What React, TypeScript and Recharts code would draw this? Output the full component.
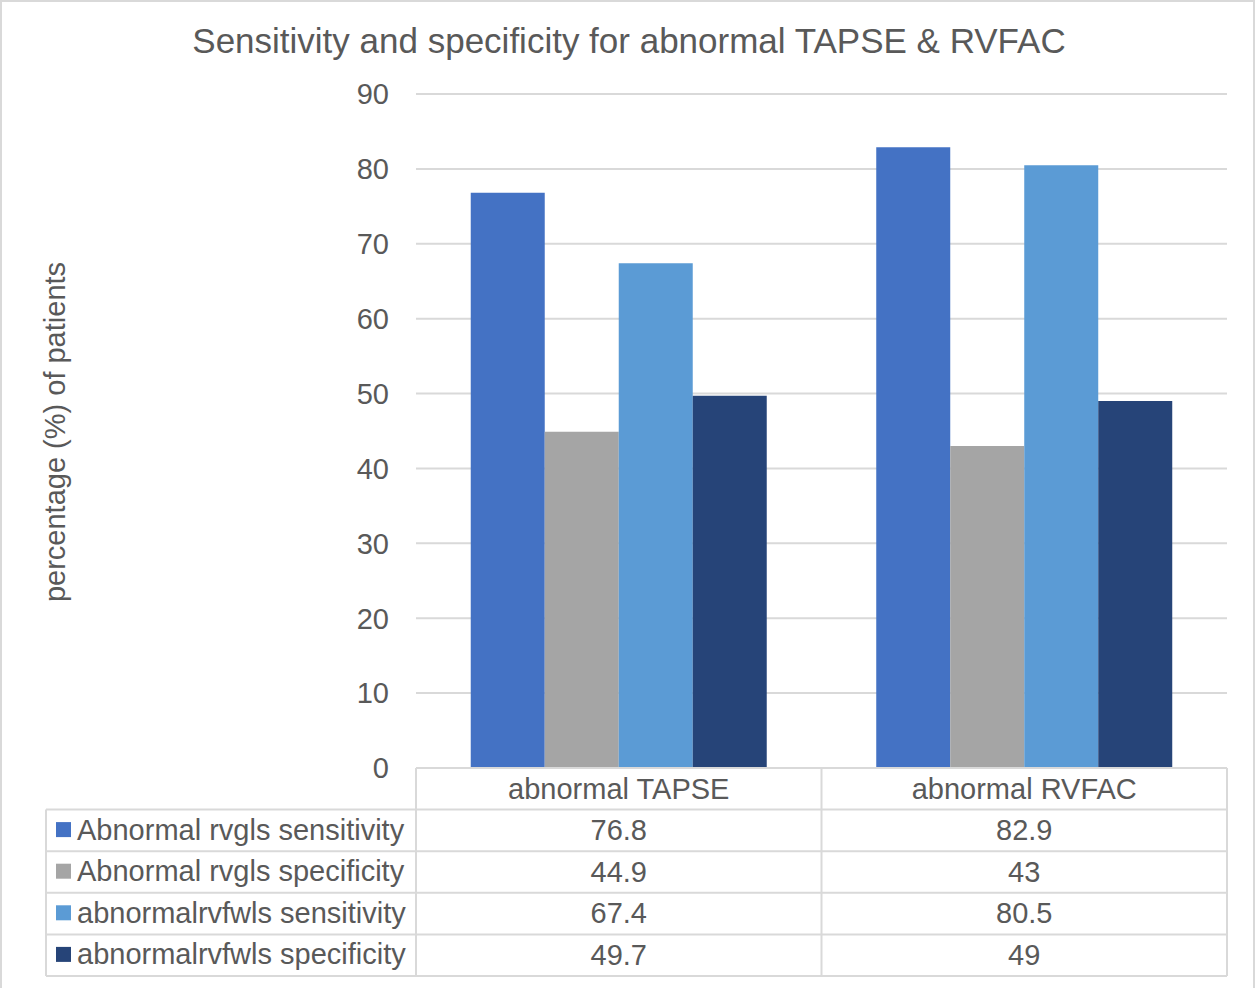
import React from 'react';
import { BarChart, Bar, XAxis, YAxis, CartesianGrid } from 'recharts';

const categories = ['abnormal TAPSE', 'abnormal RVFAC'];
const seriesNames = [
  'Abnormal rvgls sensitivity',
  'Abnormal rvgls specificity',
  'abnormalrvfwls sensitivity',
  'abnormalrvfwls specificity',
];
const rvglsSensitivity = [76.8, 82.9];
const rvglsSpecificity = [44.9, 43];
const rvfwlsSensitivity = [67.4, 80.5];
const rvfwlsSpecificity = [49.7, 49];
const yTicks = [0, 10, 20, 30, 40, 50, 60, 70, 80, 90];

const seriesValues = [rvglsSensitivity, rvglsSpecificity, rvfwlsSensitivity, rvfwlsSpecificity];
const seriesKeys = ['s0', 's1', 's2', 's3'];
const colors = ['#4472C4', '#A5A5A5', '#5B9BD5', '#264478'];

const data = categories.map((name, i) => {
  const row: Record<string, string | number> = { name };
  seriesKeys.forEach((k, s) => {
    row[k] = seriesValues[s][i];
  });
  return row;
});

const W = 1257;
const H = 988;
const FONT = '"Liberation Sans", Arial, sans-serif';
const TEXT = '#595959';
const LINE = '#d9d9d9';

// plot box
const plotLeft = 416;
const plotRight = 1227;
const plotTop = 94;
const plotBottom = 768;
const yAxisWidth = 60;
const headerHeight = 42;
const rowHeight = 41.6;
const tableLeft = 46;
const tableBottom = 976;

const bandWidth = (plotRight - plotLeft) / categories.length;

// title, axis title and the data table under the plot
const DataTable = () => {
  const rowTop = (r: number) => plotBottom + rowHeight + r * rowHeight;
  return (
    <svg
      width={W}
      height={H}
      style={{ position: 'absolute', left: 0, top: 0, pointerEvents: 'none' }}
    >
      <rect x={1} y={1} width={W - 4} height={H + 4} fill="none" stroke={LINE} strokeWidth={2} />
      <text x={629} y={53} textAnchor="middle" fontFamily={FONT} fontSize={35} fill={TEXT}>
        Sensitivity and specificity for abnormal TAPSE &amp; RVFAC
      </text>
      <text
        transform="translate(65, 432) rotate(-90)"
        textAnchor="middle"
        fontFamily={FONT}
        fontSize={29}
        fill={TEXT}
      >
        percentage (%) of patients
      </text>

      {[0, 1, 2, 3, 4].map((k) => {
        const y = plotBottom + k * rowHeight;
        return (
          <line
            key={`h${k}`}
            x1={k === 0 ? plotLeft : tableLeft}
            x2={plotRight}
            y1={y}
            y2={y}
            stroke={LINE}
            strokeWidth={2}
          />
        );
      })}
      <line x1={tableLeft} x2={plotRight} y1={tableBottom} y2={tableBottom} stroke={LINE} strokeWidth={2} />
      {[0, 1, 2].map((c) => {
        const x = plotLeft + c * bandWidth;
        return <line key={`v${c}`} x1={x} x2={x} y1={plotBottom} y2={tableBottom} stroke={LINE} strokeWidth={2} />;
      })}
      <line x1={tableLeft} x2={tableLeft} y1={plotBottom + rowHeight} y2={tableBottom} stroke={LINE} strokeWidth={2} />

      {seriesNames.map((name, s) => (
        <g key={name}>
          <rect x={56} y={rowTop(s) + 12.5} width={15} height={15} fill={colors[s]} />
          <text x={77} y={rowTop(s) + 30} fontFamily={FONT} fontSize={29} fill={TEXT}>
            {name}
          </text>
          {categories.map((cat, i) => (
            <text
              key={cat}
              x={plotLeft + bandWidth * (i + 0.5)}
              y={rowTop(s) + 30.5}
              textAnchor="middle"
              fontFamily={FONT}
              fontSize={29}
              fill={TEXT}
            >
              {seriesValues[s][i]}
            </text>
          ))}
        </g>
      ))}
    </svg>
  );
};

const App = () => {
  return (
    <div style={{ position: 'absolute', left: 0, top: 0, width: W, height: H, background: '#fff' }}>
      <BarChart
        width={W}
        height={H}
        data={data}
        barCategoryGap="13.5%"
        barGap={0}
        margin={{
          top: plotTop,
          right: W - plotRight,
          bottom: H - plotBottom - headerHeight,
          left: plotLeft - yAxisWidth,
        }}
      >
        <CartesianGrid vertical={false} stroke={LINE} strokeWidth={2} />
        <XAxis
          dataKey="name"
          height={headerHeight}
          axisLine={false}
          tickLine={false}
          tickSize={0}
          tickMargin={10}
          tick={{ fontSize: 29, fill: TEXT, fontFamily: FONT }}
        />
        <YAxis
          width={yAxisWidth}
          domain={[0, 90]}
          ticks={yTicks}
          axisLine={false}
          tickLine={false}
          tickSize={0}
          tickMargin={27}
          tick={{ fontSize: 29, fill: TEXT, fontFamily: FONT }}
        />
        {seriesKeys.map((k, s) => (
          <Bar key={k} dataKey={k} name={seriesNames[s]} fill={colors[s]} isAnimationActive={false} />
        ))}
      </BarChart>
      <DataTable />
    </div>
  );
};

export default App;
